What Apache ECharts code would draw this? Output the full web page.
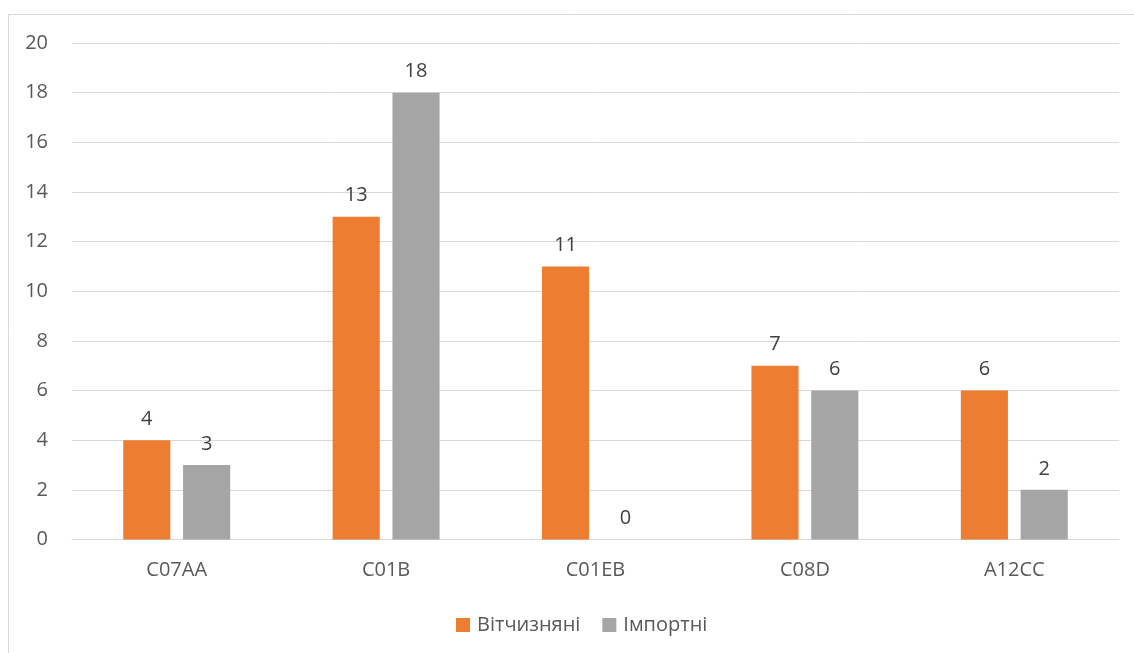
<!DOCTYPE html>
<html>
<head>
<meta charset="utf-8">
<script src="https://cdn.jsdelivr.net/npm/echarts@6/dist/echarts.min.js"></script>
<style>
  html, body { margin: 0; padding: 0; background: #fff; }
  #chart { width: 1134px; height: 653px; }
</style>
</head>
<body>
<div id="chart"></div>
<script>
const categories = ['C07AA', 'C01B', 'C01EB', 'C08D', 'A12CC'];
const domestic = [4, 13, 11, 7, 6];
const imported = [3, 18, 0, 6, 2];
const seriesNames = ['Вітчизняні', 'Імпортні'];

const font = '"Open Sans", "Noto Sans", sans-serif';
const chart = echarts.init(document.getElementById('chart'), null, { renderer: 'canvas' });

const labelStyle = {
  show: true,
  position: 'top',
  distance: 11,
  color: '#404040',
  fontSize: 20,
  fontFamily: font
};

chart.setOption({
  animation: false,
  backgroundColor: '#fff',
  graphic: [{
    type: 'rect',
    shape: { x: 8.5, y: 14.5, width: 1200, height: 700 },
    style: { fill: 'none', stroke: '#d9d9d9', lineWidth: 1 },
    silent: true
  }],
  grid: { left: 72, right: 15, top: 43, bottom: 113.5 },
  legend: {
    bottom: 13,
    left: 451,
    itemWidth: 14,
    itemHeight: 14,
    itemGap: 22,
    icon: 'rect',
    textStyle: { color: '#595959', fontSize: 20, fontFamily: font, padding: [0, 0, 0, 2] },
    data: seriesNames
  },
  xAxis: {
    type: 'category',
    data: categories,
    axisLine: { lineStyle: { color: '#d9d9d9', width: 1 } },
    axisTick: { show: false },
    axisLabel: { color: '#595959', fontSize: 20, fontFamily: font, margin: 21 }
  },
  yAxis: {
    type: 'value',
    min: 0,
    max: 20,
    interval: 2,
    axisLine: { show: false },
    axisTick: { show: false },
    splitLine: { lineStyle: { color: '#d9d9d9', width: 1 } },
    axisLabel: { color: '#595959', fontSize: 20, fontFamily: font, margin: 24 }
  },
  series: [
    {
      name: seriesNames[0],
      type: 'bar',
      data: domestic,
      barWidth: '22.5%',
      barGap: '27%',
      itemStyle: { color: '#ED7D31' },
      label: labelStyle
    },
    {
      name: seriesNames[1],
      type: 'bar',
      data: imported,
      barWidth: '22.5%',
      itemStyle: { color: '#A5A5A5' },
      label: labelStyle
    }
  ]
});
</script>
</body>
</html>
